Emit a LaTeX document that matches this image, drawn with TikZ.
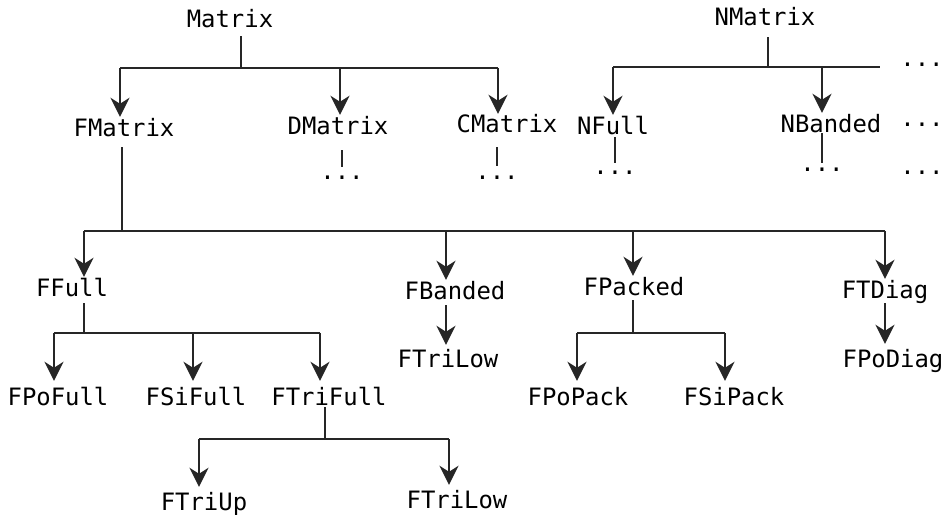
\documentclass[tikz,border=0pt]{standalone}
\usepackage{fontspec}
\setmonofont{DejaVu Sans Mono}
\usetikzlibrary{arrows.meta}
\begin{document}
\begin{tikzpicture}[x=1bp,y=-1bp,
  lbl/.style={inner sep=0pt, anchor=base, text height=20bp, text depth=8bp,
    font=\ttfamily\fontsize{24}{24}\selectfont},
  dots/.style={inner sep=0pt, anchor=base, font=\ttfamily\fontsize{24}{24}\selectfont},
  conn/.style={line width=2.6bp, draw=black!85},
  arr/.style={conn, -{Stealth[length=19bp,width=19bp,inset=6bp]}}]
\useasboundingbox (0,0) rectangle (943,517);
% level 0
\node[lbl] (m) at (230,28) {Matrix};
\node[lbl] (nm) at (765,26) {NMatrix};
% level 1
\node[lbl] (fm) at (124,137) {FMatrix};
\node[lbl] (dm) at (338,135) {DMatrix};
\node[lbl] (cm) at (507,133) {CMatrix};
\node[lbl] (nf) at (613,135) {NFull};
\node[lbl] (nb) at (831,133) {NBanded};
\node[dots] (dd) at (342,180) {...};
\node[dots] (cd) at (497,180) {...};
\node[dots] (nfd) at (615,175) {...};
\node[dots] (nbd) at (822,172) {...};
\node[dots] (r1) at (922,67) {...};
\node[dots] (r2) at (922,127) {...};
\node[dots] (r3) at (922,175) {...};
% level 2
\node[lbl] (ff) at (72,297) {FFull};
\node[lbl] (fb) at (455,300) {FBanded};
\node[lbl] (fp) at (634,296) {FPacked};
\node[lbl] (ftd) at (885,299) {FTDiag};
\node[lbl] (ftl1) at (448,368) {FTriLow};
\node[lbl] (fpd) at (893,368) {FPoDiag};
% level 3
\node[lbl] (fpf) at (58,405) {FPoFull};
\node[lbl] (fsf) at (196,405) {FSiFull};
\node[lbl] (ftf) at (329,405) {FTriFull};
\node[lbl] (fpp) at (578,405) {FPoPack};
\node[lbl] (fsp) at (734,405) {FSiPack};
% level 4
\node[lbl] (ftu) at (204,510) {FTriUp};
\node[lbl] (ftl2) at (457,508) {FTriLow};
% junction coordinates
\coordinate (j0) at (241,68);
\coordinate (j0l) at (120,68);
\coordinate (j0m) at (340,68);
\coordinate (j0r) at (498,68);
\coordinate (jn) at (768,67);
\coordinate (jnl) at (613,67);
\coordinate (jnm) at (822,67);
\coordinate (jnr) at (880,67);
\coordinate (j1) at (122,231);
\coordinate (j1a) at (84,231);
\coordinate (j1b) at (446,231);
\coordinate (j1c) at (633,231);
\coordinate (j1d) at (885,231);
\coordinate (j2) at (84,333);
\coordinate (j2a) at (54,333);
\coordinate (j2b) at (193,333);
\coordinate (j2c) at (320,333);
\coordinate (j3) at (633,333);
\coordinate (j3a) at (577,333);
\coordinate (j3b) at (725,333);
\coordinate (j4) at (325,439);
\coordinate (j4a) at (199,439);
\coordinate (j4b) at (449,439);
% Matrix tree
\draw[conn] (m.south -| j0) -- (j0);
\draw[conn] (j0l) -- (j0r);
\draw[arr] (j0l) -- (j0l |- fm.north);
\draw[arr] (j0m) -- (j0m |- dm.north);
\draw[arr] (j0r) -- ([yshift=-1bp]j0r |- cm.north);
\draw[conn] ([yshift=-7bp]dm.south -| dd) -- ([yshift=13bp]dd.base);
\draw[conn] ([yshift=-6bp]cm.south -| cd) -- ([yshift=14bp]cd.base);
% NMatrix tree
\draw[conn] ([yshift=-3bp]nm.south -| jn) -- (jn);
\draw[conn] (jnl) -- (jnr);
\draw[arr] (jnl) -- (jnl |- nf.north);
\draw[arr] (jnm) -- (jnm |- nb.north);
\draw[conn] ([yshift=6bp]nf.south -| nfd) -- ([yshift=12bp]nfd.base);
\draw[conn] ([yshift=8bp]nb.south -| nbd) -- ([yshift=9bp]nbd.base);
% FMatrix subtree
\draw[conn] ([yshift=-2bp]fm.south -| j1) -- (j1);
\draw[conn] (j1a) -- (j1d);
\draw[arr] (j1a) -- (j1a |- ff.north);
\draw[arr] (j1b) -- (j1b |- fb.north);
\draw[arr] (j1c) -- (j1c |- fp.north);
\draw[arr] (j1d) -- (j1d |- ftd.north);
% FFull subtree
\draw[conn] ([yshift=2bp]ff.south -| j2) -- (j2);
\draw[conn] (j2a) -- (j2c);
\draw[arr] (j2a) -- ([yshift=4bp]j2a |- fpf.north);
\draw[arr] (j2b) -- ([yshift=4bp]j2b |- fsf.north);
\draw[arr] (j2c) -- ([yshift=4bp]j2c |- ftf.north);
% FBanded
\draw[arr] ([yshift=3bp]fb.south -| j1b) -- ([yshift=3bp]j1b |- ftl1.north);
% FPacked subtree
\draw[conn] ([yshift=4bp]fp.south -| j3) -- (j3);
\draw[conn] (j3a) -- (j3b);
\draw[arr] (j3a) -- ([yshift=4bp]j3a |- fpp.north);
\draw[arr] (j3b) -- ([yshift=4bp]j3b |- fsp.north);
% FTDiag
\draw[arr] ([yshift=4bp]ftd.south -| j1d) -- ([yshift=4bp]j1d |- fpd.north);
% FTriFull subtree
\draw[conn] ([yshift=6bp]ftf.south -| j4) -- (j4);
\draw[conn] (j4a) -- (j4b);
\draw[arr] (j4a) -- ([yshift=3bp]j4a |- ftu.north);
\draw[arr] (j4b) -- ([yshift=3bp]j4b |- ftl2.north);
\end{tikzpicture}
\end{document}
